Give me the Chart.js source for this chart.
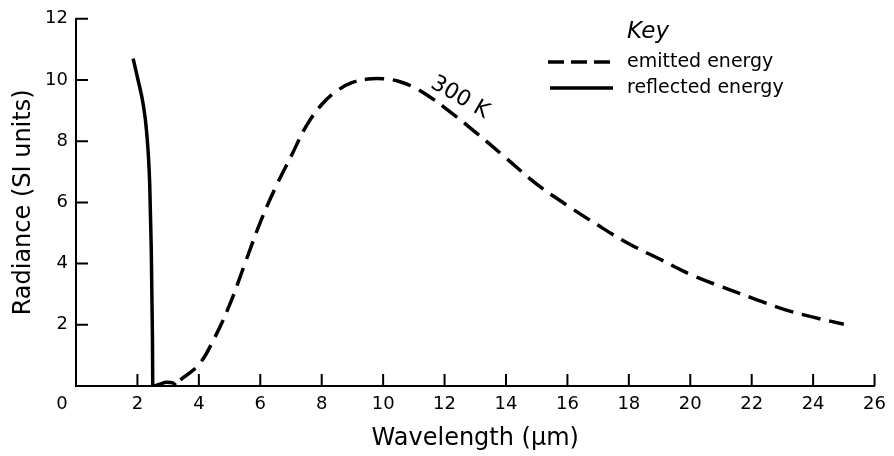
<!DOCTYPE html>
<html>
<head>
<meta charset="utf-8">
<script src="https://cdn.jsdelivr.net/npm/chart.js@4.4.1/dist/chart.umd.min.js"></script>
<style>
  html, body { margin: 0; padding: 0; background: #fff; }
  #wrap { width: 894px; height: 456px; }
</style>
</head>
<body>
<div id="wrap"><canvas id="radianceChart" width="894" height="456"></canvas></div>
<script>
// emitted energy (300 K curve), wavelength in um vs radiance
const emittedX = [3.4, 4, 4.5, 5, 5.5, 6, 6.5, 7, 7.5, 8, 8.5, 9, 9.5, 10, 10.5, 11, 11.5, 12, 13, 14, 15, 16, 17, 18, 19, 20, 21, 22, 23, 24, 25];
const emittedY = [0.2, 0.7, 1.55, 2.65, 4.0, 5.35, 6.5, 7.5, 8.5, 9.2, 9.65, 9.92, 10.03, 10.04, 9.96, 9.76, 9.46, 9.1, 8.3, 7.45, 6.6, 5.9, 5.25, 4.65, 4.15, 3.65, 3.25, 2.88, 2.52, 2.25, 2.02];

// reflected energy
const reflectedX = [1.86, 2.02, 2.18, 2.3, 2.4, 2.45, 2.49, 2.5, 2.7, 2.95, 3.15, 3.25];
const reflectedY = [10.7, 10.0, 9.25, 8.3, 6.6, 4.5, 1.5, 0, 0.05, 0.12, 0.1, 0.02];

const xTicks = [0, 2, 4, 6, 8, 10, 12, 14, 16, 18, 20, 22, 24, 26];
const yTicks = [0, 2, 4, 6, 8, 10, 12];

const FONT = "'DejaVu Sans', sans-serif";

function toPoints(xs, ys) {
  return xs.map((x, i) => ({ x: x, y: ys[i] }));
}

// ticks point inward, drawn along the axis lines
const inwardTicks = {
  id: 'inwardTicks',
  afterDraw(chart) {
    const { ctx, scales: { x, y } } = chart;
    ctx.save();
    ctx.strokeStyle = '#000';
    ctx.lineWidth = 2;
    ctx.beginPath();
    xTicks.forEach(v => {
      if (v === 0) return;
      const px = x.getPixelForValue(v);
      ctx.moveTo(px, y.bottom);
      ctx.lineTo(px, y.bottom - 12);
    });
    yTicks.forEach(v => {
      if (v === 0) return;
      const py = y.getPixelForValue(v);
      ctx.moveTo(x.left, py);
      ctx.lineTo(x.left + 12, py);
    });
    ctx.stroke();

    // origin label sits a little left of the corner
    ctx.fillStyle = '#000';
    ctx.font = '18px ' + FONT;
    ctx.textAlign = 'center';
    ctx.textBaseline = 'top';
    ctx.fillText('0', x.getPixelForValue(0) - 14, y.bottom + 9);
    ctx.restore();
  }
};

// "300 K" label and the Key box
const notes = {
  id: 'notes',
  afterDraw(chart) {
    const { ctx, scales: { x, y } } = chart;
    ctx.save();
    ctx.fillStyle = '#000';

    ctx.translate(x.getPixelForValue(12.5), y.getPixelForValue(9.42));
    ctx.rotate(30 * Math.PI / 180);
    ctx.font = '22px ' + FONT;
    ctx.textAlign = 'center';
    ctx.textBaseline = 'middle';
    ctx.fillText('300 K', 0, 0);
    ctx.setTransform(1, 0, 0, 1, 0, 0);

    ctx.textAlign = 'left';
    ctx.font = 'italic 23px ' + FONT;
    ctx.fillText('Key', 627, 32);

    ctx.font = '19px ' + FONT;
    ctx.fillText('emitted energy', 627, 62);
    ctx.fillText('reflected energy', 627, 88);

    ctx.strokeStyle = '#000';
    ctx.lineWidth = 3.5;
    ctx.setLineDash([16, 7]);
    ctx.beginPath();
    ctx.moveTo(548, 62);
    ctx.lineTo(613, 62);
    ctx.stroke();
    ctx.setLineDash([]);
    ctx.beginPath();
    ctx.moveTo(550, 88);
    ctx.lineTo(613, 88);
    ctx.stroke();
    ctx.restore();
  }
};

const ctx = document.getElementById('radianceChart');

new Chart(ctx, {
  type: 'scatter',
  data: {
    datasets: [
      {
        label: 'emitted energy',
        data: toPoints(emittedX, emittedY),
        showLine: true,
        borderColor: '#000',
        borderWidth: 3.5,
        borderDash: [19, 9],
        pointRadius: 0,
        tension: 0.4
      },
      {
        label: 'reflected energy',
        data: toPoints(reflectedX, reflectedY),
        showLine: true,
        borderColor: '#000',
        borderWidth: 3.5,
        pointRadius: 0,
        cubicInterpolationMode: 'monotone'
      }
    ]
  },
  options: {
    responsive: false,
    animation: false,
    layout: { padding: { top: 15, right: 19, left: 0, bottom: 0 } },
    plugins: {
      legend: { display: false },
      tooltip: { enabled: false }
    },
    scales: {
      x: {
        type: 'linear',
        min: 0,
        max: 26,
        afterBuildTicks: s => { s.ticks = xTicks.map(v => ({ value: v })); },
        afterFit: s => { s.height = 70; },
        grid: { display: false, drawTicks: false },
        border: { display: true, color: '#000', width: 2 },
        ticks: {
          padding: 8,
          color: '#000',
          font: { family: FONT, size: 18 },
          callback: v => (v === 0 ? '' : v)
        },
        title: {
          display: true,
          text: 'Wavelength (\u03bcm)',
          color: '#000',
          font: { family: FONT, size: 24 },
          padding: { top: 0, bottom: 3 }
        }
      },
      y: {
        min: 0,
        max: 12,
        afterBuildTicks: s => { s.ticks = yTicks.map(v => ({ value: v })); },
        afterFit: s => { s.width = 76; },
        grid: { display: false, drawTicks: false },
        border: { display: true, color: '#000', width: 2 },
        ticks: {
          padding: 8,
          color: '#000',
          font: { family: FONT, size: 18 },
          callback: v => (v === 0 ? '' : v)
        },
        title: {
          display: true,
          text: 'Radiance (SI units)',
          color: '#000',
          font: { family: FONT, size: 24 },
          padding: { top: 9, bottom: 0 }
        }
      }
    }
  },
  plugins: [inwardTicks, notes]
});
</script>
</body>
</html>
